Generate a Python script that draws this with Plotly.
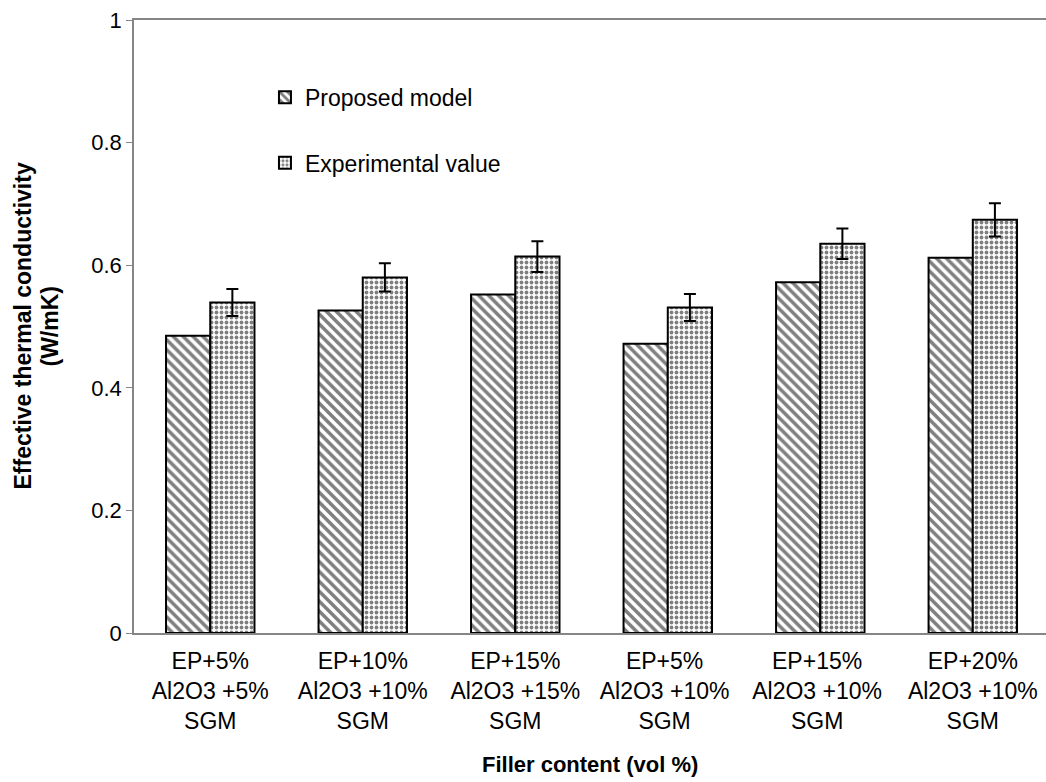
import plotly.graph_objects as go

categories = [
    "EP+5%<br>Al2O3 +5%<br>SGM",
    "EP+10%<br>Al2O3 +10%<br>SGM",
    "EP+15%<br>Al2O3 +15%<br>SGM",
    "EP+5% <br>Al2O3 +10% <br>SGM ",
    "EP+15% <br>Al2O3 +10% <br>SGM ",
    "EP+20%<br>Al2O3 +10%<br>SGM",
]
proposed = [0.485, 0.526, 0.552, 0.472, 0.572, 0.612]
experimental = [0.539, 0.580, 0.614, 0.531, 0.635, 0.674]
exp_error = [0.022, 0.023, 0.025, 0.022, 0.025, 0.027]
y_ticks = [0, 0.2, 0.4, 0.6, 0.8, 1]

FONT = "Liberation Sans, Arial, sans-serif"

fig = go.Figure()
fig.add_trace(go.Bar(
    x=categories, y=proposed, name="Proposed model",
    marker=dict(color="white", line=dict(color="black", width=2),
                pattern=dict(shape="\\", fgcolor="black", bgcolor="white",
                             size=7, solidity=0.5)),
    legend="legend",
))
fig.add_trace(go.Bar(
    x=categories, y=experimental, name="Experimental value",
    marker=dict(color="white", line=dict(color="black", width=2),
                pattern=dict(shape=".", fgcolor="black", bgcolor="white",
                             size=5, solidity=0.45)),
    error_y=dict(type="data", array=exp_error, color="black", thickness=2, width=6),
    legend="legend2",
))

fig.update_layout(
    width=1046, height=782,
    margin=dict(l=134, r=0, t=20, b=149),
    plot_bgcolor="white", paper_bgcolor="white",
    showlegend=True,
    barmode="group", bargap=0.42, bargroupgap=0,
    font=dict(family=FONT, size=23, color="black"),
    legend=dict(x=0.1436, y=0.874, xanchor="left", yanchor="middle",
                bgcolor="rgba(0,0,0,0)", font=dict(size=23)),
    legend2=dict(x=0.1436, y=0.767, xanchor="left", yanchor="middle",
                 bgcolor="rgba(0,0,0,0)", font=dict(size=23)),
    xaxis=dict(range=[-0.5, 5.48], showline=True, linecolor="#868686", linewidth=1.5,
               mirror=True, ticks="", showgrid=False, zeroline=False,
               ticklabelstandoff=7, tickfont=dict(size=23)),
    yaxis=dict(range=[0, 1], tickvals=y_ticks, showline=True, linecolor="#868686",
               linewidth=1.5, ticks="outside", ticklen=6, tickcolor="#868686",
               showgrid=False, zeroline=False, ticklabelstandoff=0,
               tickfont=dict(size=22)),
    annotations=[
        dict(text="<b>Filler content (vol %)</b>", xref="paper", yref="paper",
             x=0.5, y=-0.2153, xanchor="center", yanchor="middle",
             showarrow=False, font=dict(size=22)),
        dict(text="<b>Effective thermal conductivity</b>", xref="paper",
             yref="paper", x=-0.1228, y=0.5, xanchor="center", yanchor="middle",
             textangle=-90, showarrow=False, font=dict(size=23)),
        dict(text="<b>(W/mK)</b>", xref="paper",
             yref="paper", x=-0.0932, y=0.5, xanchor="center", yanchor="middle",
             textangle=-90, showarrow=False, font=dict(size=23)),
    ],
)

fig.write_html("out.html")
